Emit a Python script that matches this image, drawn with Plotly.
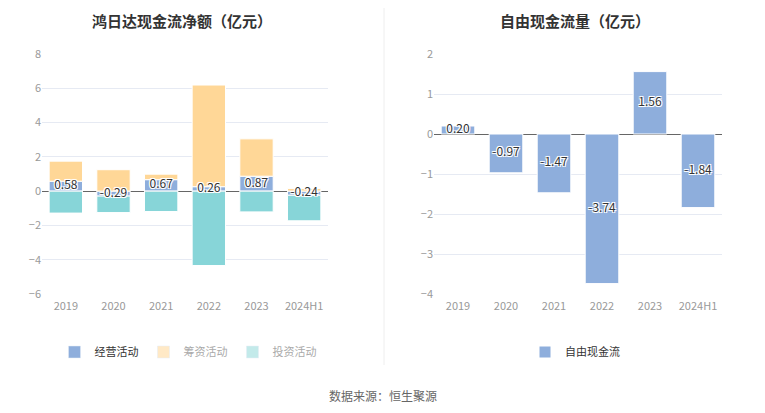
import plotly.graph_objects as go

# data (亿元)
years = ["2019", "2020", "2021", "2022", "2023", "2024H1"]
operating = [0.58, -0.29, 0.67, 0.26, 0.87, -0.24]
financing = [1.17, 1.25, 0.32, 5.93, 2.18, 0.16]
investing = [-1.28, -0.96, -1.19, -4.34, -1.21, -1.49]
free_cf = [0.20, -0.97, -1.47, -3.74, 1.56, -1.84]

c_op = "#8eaedc"
c_fin = "#ffd797"
c_inv = "#87d5d8"
outline = "-1px -1px 0 #fff, 1px -1px 0 #fff, -1px 1px 0 #fff, 1px 1px 0 #fff, 0 0 2px #fff"
font = "Noto Sans CJK SC"
edge = dict(color="#fff", width=1)

W, H = 765, 413
OFF = 8  # page body margin


def px(x):
    return (x - OFF) / W


def py(y):
    return 1 - (y - OFF) / H


fig = go.Figure()

# left chart: relative stacking (positives up, negatives down)
fig.add_trace(go.Bar(x=years, y=operating, marker=dict(color=c_op, line=edge),
                     xaxis="x", yaxis="y", showlegend=False, hoverinfo="skip"))
fig.add_trace(go.Bar(x=years, y=financing, marker=dict(color=c_fin, line=edge),
                     xaxis="x", yaxis="y", showlegend=False, hoverinfo="skip"))
fig.add_trace(go.Bar(x=years, y=investing, marker=dict(color=c_inv, line=edge),
                     xaxis="x", yaxis="y", showlegend=False, hoverinfo="skip"))
# value labels in the middle of the operating bars
fig.add_trace(go.Scatter(x=years, y=[v / 2 for v in operating], mode="text",
                         text=[f"{v:.2f}" for v in operating],
                         textfont=dict(size=12, color="#333", shadow=outline),
                         xaxis="x", yaxis="y", showlegend=False, hoverinfo="skip"))

# legend entries (pale icons like the reference)
for nm, col in [("经营活动", c_op),
                ("<span style='color:#aaa'>筹资活动</span>", "#ffe9c6"),
                ("<span style='color:#aaa'>投资活动</span>", "#c3eaea")]:
    fig.add_trace(go.Bar(x=[None], y=[None], name=nm, marker=dict(color=col), xaxis="x", yaxis="y",
                         legend="legend"))

# right chart
fig.add_trace(go.Bar(x=years, y=free_cf, name="自由现金流", marker=dict(color=c_op, line=edge),
                     xaxis="x2", yaxis="y2", legend="legend2", hoverinfo="skip"))
fig.add_trace(go.Scatter(x=years, y=[v / 2 for v in free_cf], mode="text",
                         text=[f"{v:.2f}" for v in free_cf],
                         textfont=dict(size=12, color="#333", shadow=outline),
                         xaxis="x2", yaxis="y2", showlegend=False, hoverinfo="skip"))

ytop, ybot = py(54), py(294)
axis_common = dict(showgrid=False, showline=False, ticks="", automargin=False, ticklabelstandoff=4,
                   tickfont=dict(size=11, color="#999"))
yaxis_common = dict(showgrid=True, gridcolor="#e6eaf3", gridwidth=1, zeroline=True, zerolinecolor="#666",
                    zerolinewidth=1, showline=False, ticks="", automargin=False,
                    tickfont=dict(size=11, color="#999"), domain=[ybot, ytop])

fig.update_layout(
    width=W, height=H, margin=dict(l=0, r=0, t=0, b=0, autoexpand=False),
    paper_bgcolor="white", plot_bgcolor="white",
    font=dict(family=font, color="#333"),
    barmode="relative", bargap=0.3,
    xaxis=dict(domain=[px(42), px(328)], anchor="y", **axis_common),
    yaxis=dict(range=[-6, 8], dtick=2, anchor="x", **yaxis_common),
    xaxis2=dict(domain=[px(434), px(722)], anchor="y2", **axis_common),
    yaxis2=dict(range=[-4, 2], dtick=1, anchor="x2", **yaxis_common),
    legend=dict(orientation="h", x=px(188), xanchor="center", y=py(352), yanchor="middle",
                font=dict(size=11, color="#333")),
    legend2=dict(orientation="h", x=px(575), xanchor="center", y=py(352), yanchor="middle",
                 font=dict(size=11, color="#333")),
    annotations=[
        dict(text="<b>鸿日达现金流净额（亿元）</b>", x=px(182), y=1, xref="paper", yref="paper",
             xanchor="center", yanchor="top", showarrow=False, font=dict(size=15, color="#333")),
        dict(text="<b>自由现金流量（亿元）</b>", x=px(575), y=1, xref="paper", yref="paper",
             xanchor="center", yanchor="top", showarrow=False, font=dict(size=15, color="#333")),
        dict(text="数据来源：恒生聚源", x=px(383), y=py(395), xref="paper", yref="paper",
             xanchor="center", yanchor="middle", showarrow=False, font=dict(size=12, color="#666")),
    ],
    shapes=[dict(type="line", xref="paper", yref="paper", x0=px(384), x1=px(384), y0=py(365), y1=1,
                 line=dict(color="#eeeeee", width=1))],
)

fig.write_html("out.html")
